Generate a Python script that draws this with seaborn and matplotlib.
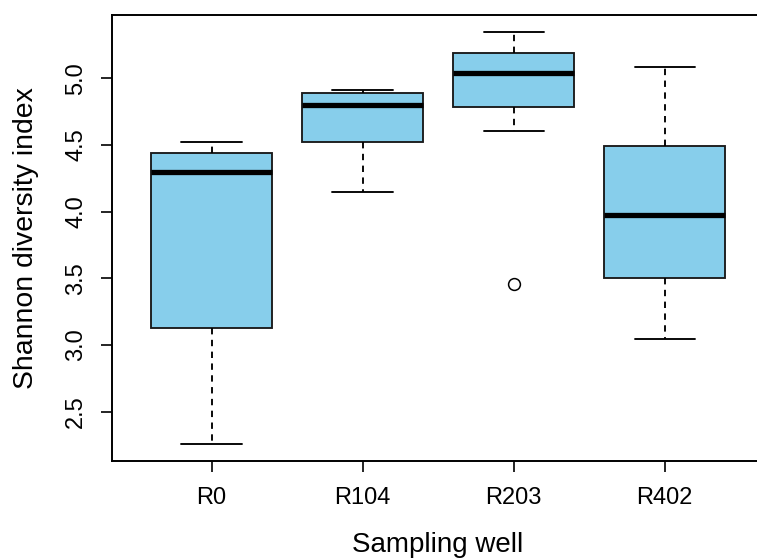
import numpy as np
import pandas as pd
import matplotlib
matplotlib.use("Agg")
import matplotlib.pyplot as plt
import seaborn as sns

wells = ["R0", "R104", "R203", "R402"]
r0 = [2.255, 3.126, 4.296, 4.441, 4.523]
r104 = [4.150, 4.525, 4.803, 4.893, 4.911]
r203 = [3.460, 4.606, 4.962, 5.043, 5.120, 5.266, 5.348]
r402 = [3.043, 3.505, 3.978, 4.493, 5.086]
yticks = [2.5, 3.0, 3.5, 4.0, 4.5, 5.0]

df = pd.DataFrame({
    "well": ["R0"] * len(r0) + ["R104"] * len(r104) + ["R203"] * len(r203) + ["R402"] * len(r402),
    "shannon": r0 + r104 + r203 + r402,
})

sns.set_style("white")
plt.rcParams["font.family"] = ["Liberation Sans", "DejaVu Sans"]

fig = plt.figure(figsize=(7.57, 5.58), dpi=100)
W, H = 757, 558
left, right, top, bottom = 111.7, 764.4, 15.3, 461.0
ax = fig.add_axes([left / W, (H - bottom) / H, (right - left) / W, (bottom - top) / H])

lw = 1.35
sns.boxplot(
    data=df, x="well", y="shannon", order=wells, ax=ax,
    color="#87CEEB", saturation=1, width=0.8, whis=1.5,
    linecolor="black", linewidth=lw,
    boxprops=dict(edgecolor="#1a1a1a", linewidth=lw),
    medianprops=dict(color="black", linewidth=3.8, solid_capstyle="butt"),
    whiskerprops=dict(color="black", linewidth=lw, linestyle=(0, (3.4, 2.9))),
    capprops=dict(color="black", linewidth=lw, linestyle="-"),
    flierprops=dict(marker="o", markerfacecolor="none", markeredgecolor="black",
                    markersize=8.5, markeredgewidth=1.1),
)

ax.set_xlim(-0.662, 3.66)
ax.set_ylim(2.131, 5.472)
ax.set_yticks(yticks)
ax.set_yticklabels([f"{v:.1f}" for v in yticks])
ax.tick_params(axis="both", direction="out", length=8.2, width=1.2, color="black",
               labelsize=17, labelcolor="black", left=True, bottom=True)
ax.tick_params(axis="x", pad=10.5)
ax.tick_params(axis="y", pad=9.5)
for lab in ax.get_yticklabels():
    lab.set_rotation(90)
    lab.set_va("center")
for s in ax.spines.values():
    s.set_visible(True)
    s.set_color("black")
    s.set_linewidth(1.4)

ax.set_xlabel("Sampling well", fontsize=20, color="black")
ax.set_ylabel("Shannon diversity index", fontsize=20.4, color="black")
ax.xaxis.set_label_coords(0.5, -0.16)
ax.yaxis.set_label_coords(-0.111, 0.5)

fig.savefig("out.png", dpi=100)
